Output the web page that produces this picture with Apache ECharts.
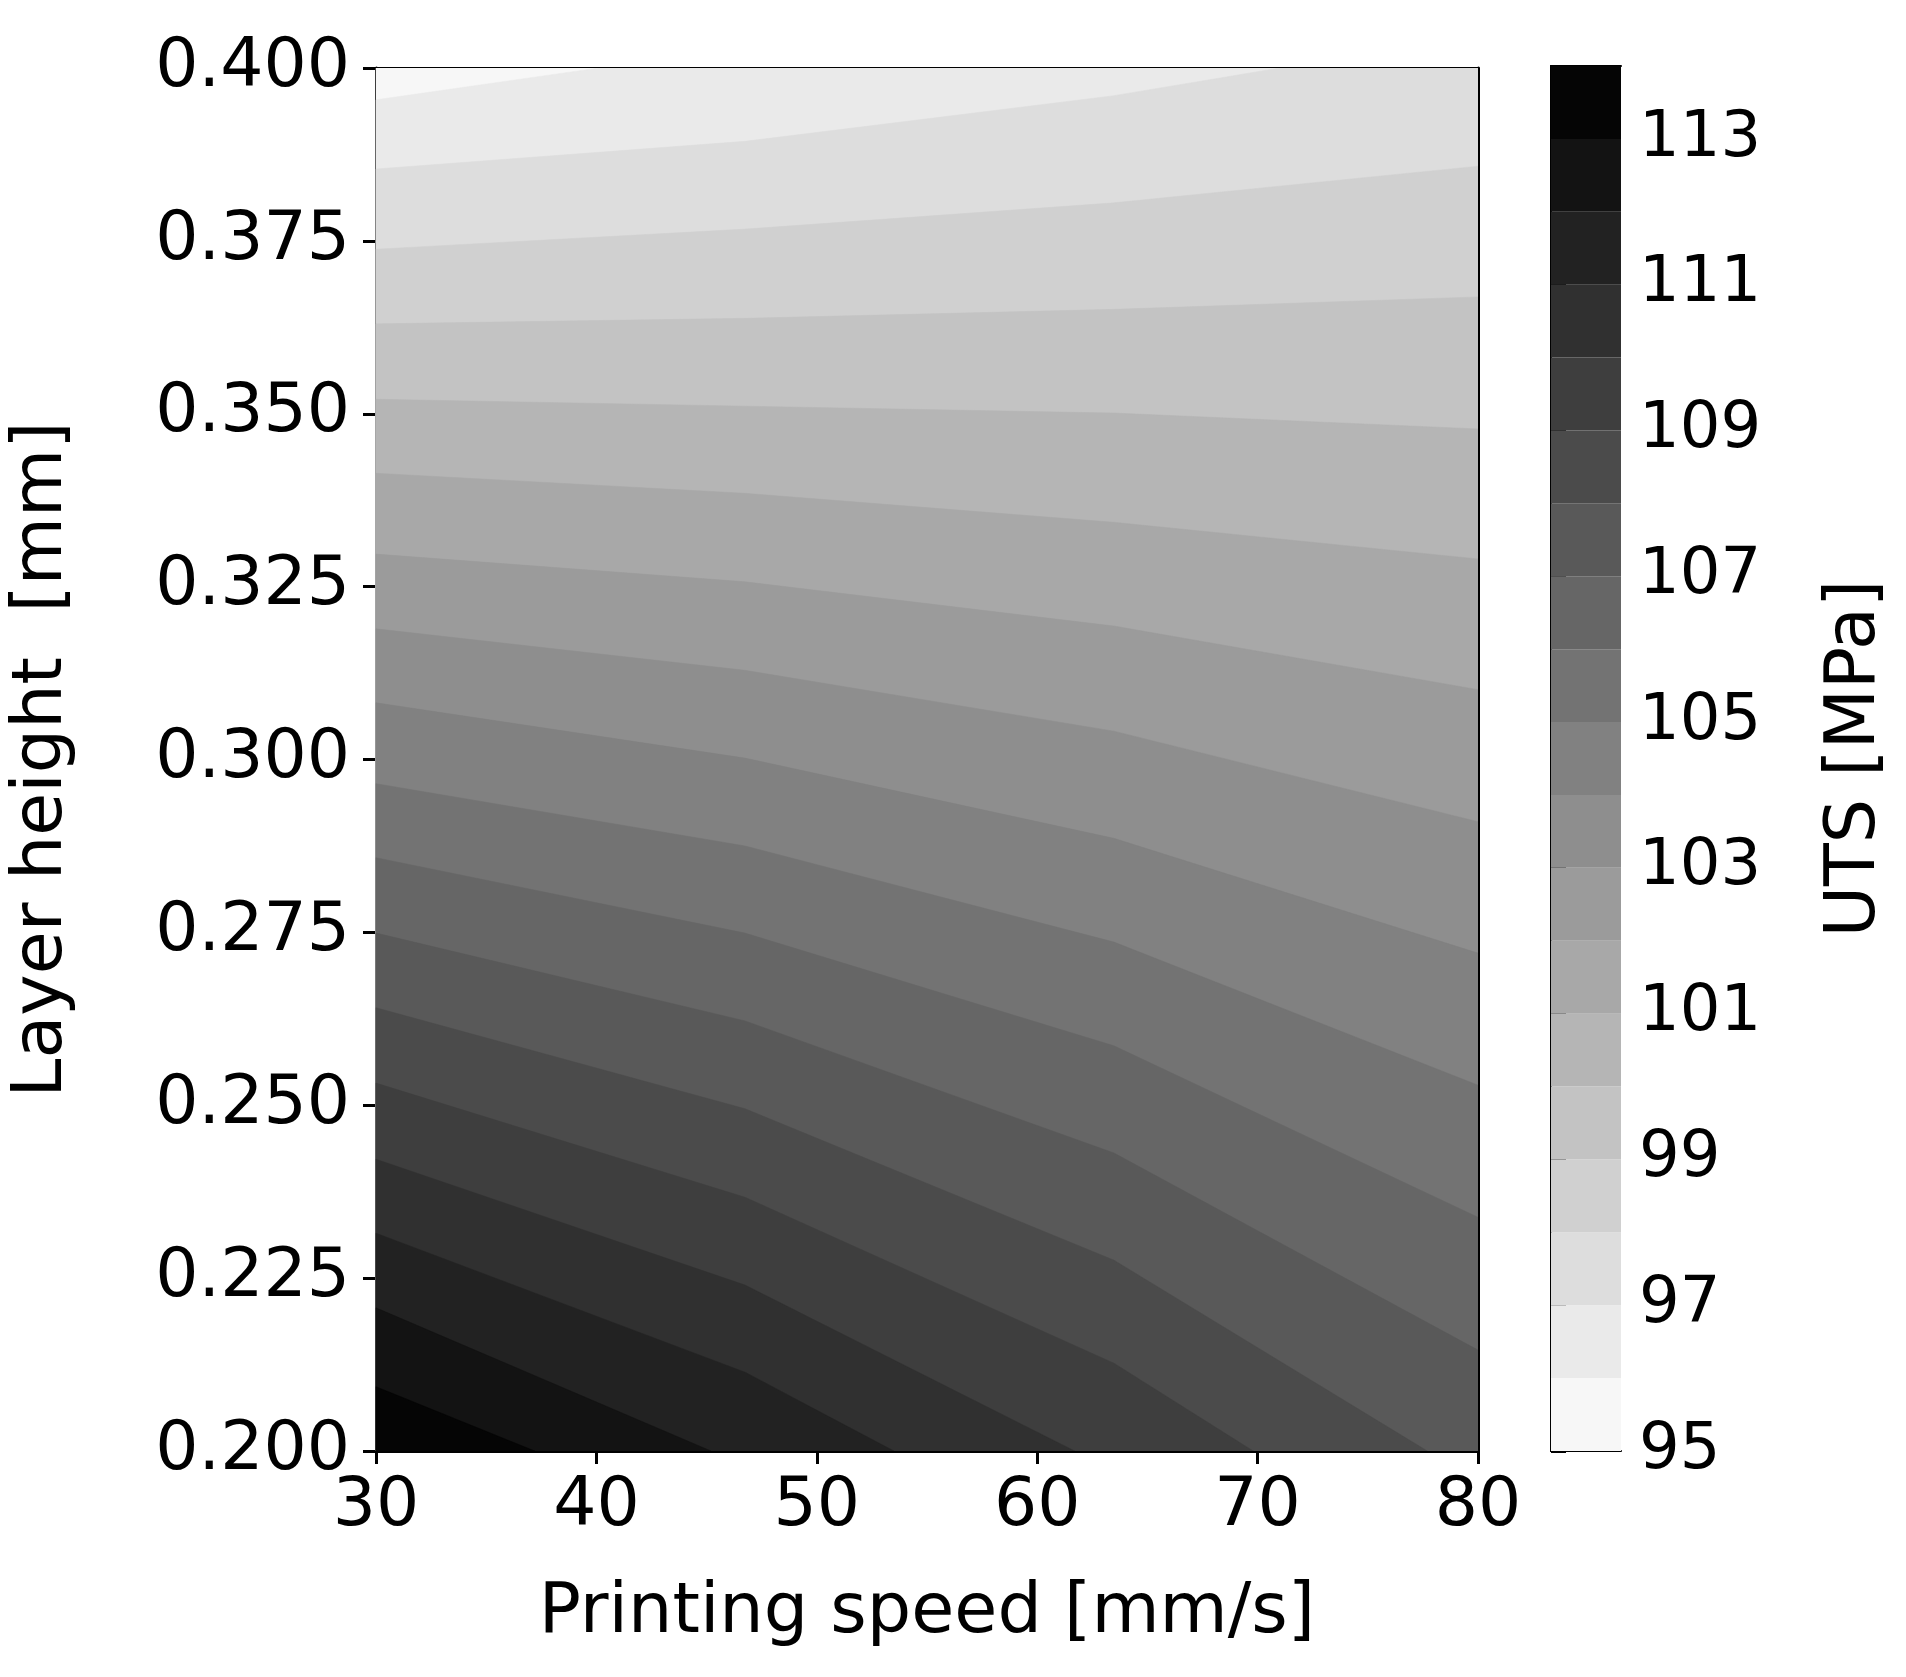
<!DOCTYPE html>
<html lang="en">
<head>
    <meta charset="UTF-8">
    <title>UTS contour</title>
    <script src="https://cdn.jsdelivr.net/npm/echarts/dist/echarts.min.js"></script>
    <style>
        body { margin: 0; background: #ffffff; }
        #chart { width: 1906px; height: 1677px; }
    </style>
</head>
<body>
    <div id="chart"></div>
    <script>
        // contour levels (MPa) and the boundary of each level
        let levels = [96, 97, 98, 99, 100, 101, 102, 103, 104, 105, 106, 107, 108, 109, 110, 111, 112, 113];
        let contourSpeed = [
            [30, 40.1, 80],
            [30, 46.74, 63.48, 71.0, 80],
            [30, 46.74, 63.48, 80],
            [30, 46.74, 63.48, 80],
            [30, 46.74, 63.48, 80],
            [30, 46.74, 63.48, 80],
            [30, 46.74, 63.48, 80],
            [30, 46.74, 63.48, 80],
            [30, 46.74, 63.48, 80],
            [30, 46.74, 63.48, 80],
            [30, 46.74, 63.48, 80],
            [30, 46.74, 63.48, 80],
            [30, 46.74, 63.48, 77.7],
            [30, 46.74, 63.48, 69.8],
            [30, 46.74, 61.7],
            [30, 46.74, 53.5],
            [30, 45.2],
            [30, 37.2]
        ];
        let contourHeight = [
            [0.3954, 0.4, 0.4],
            [0.3854, 0.3894, 0.3960, 0.4, 0.4],
            [0.3738, 0.3767, 0.3805, 0.3858],
            [0.3630, 0.3638, 0.3651, 0.3669],
            [0.3521, 0.3511, 0.3501, 0.3478],
            [0.3414, 0.3385, 0.3343, 0.3290],
            [0.3297, 0.3257, 0.3193, 0.3101],
            [0.3189, 0.3129, 0.3041, 0.2910],
            [0.3082, 0.3002, 0.2886, 0.2720],
            [0.2965, 0.2875, 0.2736, 0.2529],
            [0.2858, 0.2749, 0.2586, 0.2338],
            [0.2749, 0.2622, 0.2431, 0.2146],
            [0.2641, 0.2495, 0.2276, 0.2],
            [0.2532, 0.2367, 0.2127, 0.2],
            [0.2422, 0.2240, 0.2],
            [0.2315, 0.2114, 0.2],
            [0.2207, 0.2],
            [0.2093, 0.2]
        ];
        // band colours, 95-96 up to 113-114
        let bandLow = [95, 96, 97, 98, 99, 100, 101, 102, 103, 104, 105, 106, 107, 108, 109, 110, 111, 112, 113];
        let bandColors = ['#f7f7f7', '#eaeaea', '#dddddd', '#d0d0d0', '#c3c3c3', '#b5b5b5', '#a8a8a8', '#9b9b9b',
            '#8e8e8e', '#818181', '#737373', '#666666', '#595959', '#4b4b4b', '#3e3e3e', '#303030',
            '#222222', '#131313', '#050505'];
        let speedTicks = [30, 80, 10];
        let heightTicks = [0.2, 0.4, 0.025];

        let font = 'DejaVu Sans';
        let lbl = { color: '#000', fontSize: 68, fontFamily: font };

        function renderBand(params, api) {
            let i = api.value(0);
            let pts = [];
            if (i < 0) {
                pts = [[30, 0.2], [30, 0.4], [80, 0.4], [80, 0.2]];
            } else {
                let xs = contourSpeed[i], ys = contourHeight[i];
                for (let k = 0; k < xs.length; k++) pts.push([xs[k], ys[k]]);
                if (xs[xs.length - 1] === 80) pts.push([80, 0.2]);
                pts.push([30, 0.2]);
            }
            return {
                type: 'polygon',
                shape: { points: pts.map(p => api.coord(p)) },
                style: { fill: bandColors[i + 1], stroke: bandColors[i + 1], lineWidth: 0.5 }
            };
        }

        function renderBar(params, api) {
            let lo = api.value(0);
            let a = api.coord([0, lo]);
            let b = api.coord([1, lo + 1]);
            return {
                type: 'rect',
                shape: { x: a[0], y: b[1], width: b[0] - a[0], height: a[1] - b[1] },
                style: { fill: bandColors[bandLow.indexOf(lo)] }
            };
        }

        let bandData = [[-1]].concat(levels.map((l, i) => [i]));
        let axisLine = { show: true, lineStyle: { color: '#000', width: 3 } };
        let tick = { show: true, inside: false, length: 13, lineStyle: { color: '#000', width: 3 } };

        let option = {
            backgroundColor: '#ffffff',
            animation: false,
            grid: [
                { left: 373, top: 68, width: 1105, height: 1383 },
                { left: 1551, top: 66, width: 70, height: 1385 }
            ],
            xAxis: [
                {
                    gridIndex: 0, type: 'value', min: speedTicks[0], max: speedTicks[1], interval: speedTicks[2],
                    axisLine: axisLine, axisTick: tick, splitLine: { show: false },
                    axisLabel: Object.assign({ margin: 22 }, lbl),
                    name: 'Printing speed [mm/s]', nameLocation: 'middle', nameGap: 128,
                    nameTextStyle: { color: '#000', fontSize: 70, fontFamily: font }
                },
                {
                    gridIndex: 0, type: 'value', position: 'top', min: 30, max: 80,
                    axisLine: axisLine, axisTick: { show: false }, axisLabel: { show: false }, splitLine: { show: false }
                },
                {
                    gridIndex: 1, type: 'value', min: 0, max: 1, show: true,
                    axisLine: { show: true, lineStyle: { color: '#000', width: 2 } },
                    axisTick: { show: false }, axisLabel: { show: false }, splitLine: { show: false }
                },
                {
                    gridIndex: 1, type: 'value', position: 'top', min: 0, max: 1,
                    axisLine: { show: true, lineStyle: { color: '#000', width: 2 } },
                    axisTick: { show: false }, axisLabel: { show: false }, splitLine: { show: false }
                }
            ],
            yAxis: [
                {
                    gridIndex: 0, type: 'value', min: heightTicks[0], max: heightTicks[1], interval: heightTicks[2],
                    axisLine: axisLine, axisTick: tick, splitLine: { show: false },
                    axisLabel: Object.assign({ margin: 26, formatter: v => v.toFixed(3) }, lbl),
                    name: 'Layer height  [mm]', nameLocation: 'middle', nameGap: 298, nameRotate: 90,
                    nameTextStyle: { color: '#000', fontSize: 70, fontFamily: font }
                },
                {
                    gridIndex: 0, type: 'value', position: 'right', min: 0.2, max: 0.4,
                    axisLine: axisLine, axisTick: { show: false }, axisLabel: { show: false }, splitLine: { show: false }
                },
                {
                    gridIndex: 1, type: 'value', position: 'right', min: 95, max: 114, interval: 2,
                    axisLine: { show: true, lineStyle: { color: '#000', width: 2 } },
                    axisTick: { show: true, length: 15, lineStyle: { color: '#000', width: 3 } },
                    splitLine: { show: false },
                    axisLabel: Object.assign({ margin: 18, showMaxLabel: false }, lbl, { fontSize: 64 }),
                    name: 'UTS [MPa]', nameLocation: 'middle', nameGap: 200, nameRotate: 90,
                    nameTextStyle: { color: '#000', fontSize: 70, fontFamily: font }
                },
                {
                    gridIndex: 1, type: 'value', position: 'left', min: 95, max: 114,
                    axisLine: { show: true, lineStyle: { color: '#000', width: 2 } },
                    axisTick: { show: false }, axisLabel: { show: false }, splitLine: { show: false }
                }
            ],
            series: [
                {
                    type: 'custom', xAxisIndex: 0, yAxisIndex: 0,
                    renderItem: renderBand, data: bandData, clip: true, z: 1
                },
                {
                    type: 'custom', xAxisIndex: 2, yAxisIndex: 2,
                    renderItem: renderBar, data: bandLow.map(v => [v]), z: 1
                }
            ]
        };

        let chart = echarts.init(document.getElementById('chart'));
        chart.setOption(option);
    </script>
</body>
</html>
